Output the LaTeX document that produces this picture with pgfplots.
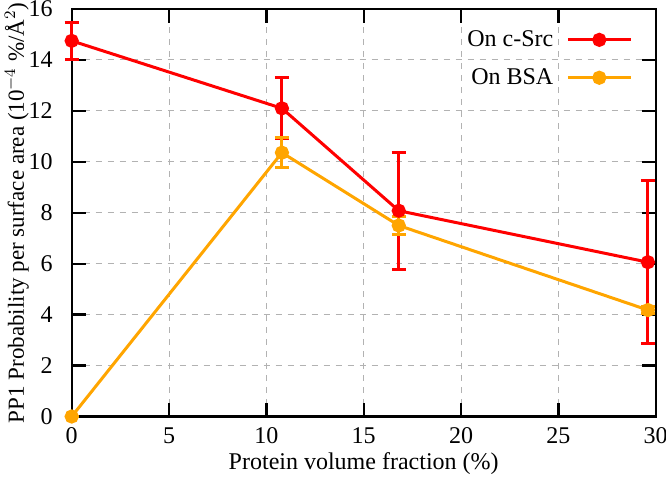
\documentclass[border=0pt]{standalone}
\usepackage{fontspec}
\setmainfont{LiberationSerif}[Extension=.ttf, UprightFont=*-Regular, BoldFont=*-Bold, ItalicFont=*-Italic, BoldItalicFont=*-BoldItalic]
\usepackage{pgfplots}
\pgfplotsset{compat=1.18}
\definecolor{gpred}{RGB}{255,0,0}
\definecolor{gporange}{RGB}{255,165,0}
\begin{document}
\begin{tikzpicture}
\begin{axis}[
  scale only axis, width=292pt, height=203.75pt,
  xmin=0, xmax=30, ymin=0, ymax=16,
  xtick={0,5,...,30}, ytick={0,2,...,16},
  tick align=inside, major tick length=7pt,
  axis line style={line width=1.2pt},
  every tick/.style={black, line width=1.2pt},
  grid=major, grid style={dashed, gray!60, line width=0.5pt},
  /pgf/number format/assume math mode=true,
  ticklabel style={font=\fontsize{12}{14}\selectfont},
  yticklabel style={xshift=-6pt},
  xticklabel style={yshift=-2pt},
  xlabel style={font=\fontsize{12}{14}\selectfont, yshift=2.5pt},
  ylabel style={font=\fontsize{11.5}{13}\selectfont, yshift=-7pt},
  xlabel={Protein volume fraction (\%)},
  ylabel={PP1 Probability per surface area (10$^{-4}$ \%/Å$^{2}$)},
  clip=false,
  legend plot pos=right,
  legend style={draw=none, fill=none, at={(rel axis cs:1,1)}, anchor=north east,
    xshift=-8.5pt, yshift=-6.5pt, cells={anchor=east}, row sep=5.5pt,
    font=\fontsize{12}{14}\selectfont,
    /tikz/every odd column/.append style={column sep=4.5pt}},
  legend image code/.code={\draw[mark repeat=2,mark phase=2,#1] plot coordinates {(0pt,0pt) (15.75pt,0pt) (31.5pt,0pt)};},
]
\addplot[gpred, line width=1.5pt, mark=*, mark size=2.8pt,
  error bars/.cd, y dir=both, y explicit,
  error bar style={line width=1.5pt, solid},
  error mark options={gpred, line width=1.5pt, mark size=3.5pt, rotate=90}]
  coordinates {
  (0,14.75) +- (0,0.72)
  (10.8,12.1) +- (0,1.2)
  (16.8,8.08) +- (0,2.3)
  (29.6,6.06) +- (0,3.2)
};
\addlegendentry{On c-Src}
\addplot[gporange, line width=1.5pt, mark=*, mark size=2.8pt,
  error bars/.cd, y dir=both, y explicit,
  error bar style={line width=1.5pt, solid},
  error mark options={gporange, line width=1.5pt, mark size=3.5pt, rotate=90}]
  coordinates {
  (0,0) +- (0,0)
  (10.8,10.36) +- (0,0.58)
  (16.8,7.5) +- (0,0.36)
  (29.6,4.18) +- (0,0.15)
};
\addlegendentry{On BSA}
\end{axis}
\pgfresetboundingbox
\path[use as bounding box] ([shift={(-35.85pt,-31.25pt)}]current axis.south west) rectangle ([shift={(5.15pt,4.5pt)}]current axis.north east);
\end{tikzpicture}
\end{document}
